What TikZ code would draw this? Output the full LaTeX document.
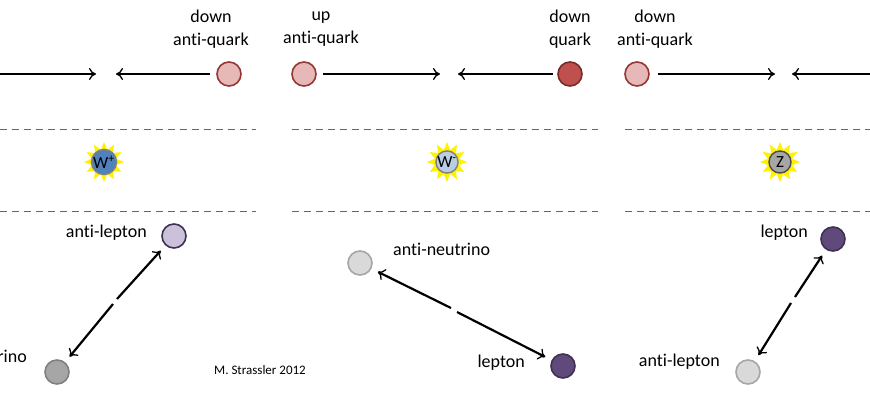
\documentclass[tikz,border=0pt]{standalone}
\usepackage{fontspec}
\setmainfont[Ligatures=NoCommon]{Carlito}
\usetikzlibrary{arrows.meta,shapes.geometric}
\definecolor{aqfill}{HTML}{E6B9B8}
\definecolor{qdraw}{HTML}{953735}
\definecolor{qfill}{HTML}{C0504D}
\definecolor{alfill}{HTML}{CCC1DA}
\definecolor{ldraw}{HTML}{3F3151}
\definecolor{lfill}{HTML}{604A7B}
\definecolor{wpfill}{HTML}{4F81BD}
\definecolor{wmfill}{HTML}{B9CDE5}
\begin{document}
\begin{tikzpicture}[x=1pt,y=1pt,
    part/.style={circle,line width=1.6pt,minimum size=24pt,inner sep=0pt},
    boson/.style={circle,draw=gray,line width=1.4pt,minimum size=22pt,inner sep=0pt,font=\fontsize{17}{17}\selectfont},
    burst/.style={star,star points=12,star point ratio=1.6,fill=yellow,minimum size=40pt,inner sep=0pt},
    lbl/.style={font=\fontsize{18}{23}\selectfont,inner sep=0pt},
    move/.style={-{To[length=7pt,width=12pt,line width=1.3pt]},line width=2.2pt},
    level/.style={gray!80!black,line width=1pt,dash pattern=on 7pt off 5pt}]
\useasboundingbox (0,0) rectangle (870,400);
% panel 1
\node[part,draw=qdraw,fill=aqfill] (daqa) at (229,326) {};
\node[lbl,align=center] (daqal) at (211,371) {down\\anti-quark};
\coordinate (ina1) at (-20,326);
\coordinate (hita1) at (96,326);
\coordinate (hitb1) at (116,326);
\draw[move] (ina1) -- (hita1);
\draw[move,shorten <=6pt] (daqa) -- (hitb1);
\draw[level] (0,271) -- (256,271);
\draw[level] (0,189) -- (256,189);
\node[burst] (bwp) at (104,238) {};
\node[boson,fill=wpfill] (wp) at (104,238) {W\textsuperscript{+}};
\node[part,draw=ldraw,fill=alfill] (ala) at (174,164) {};
\node[lbl,anchor=east] (alal) at (147,167) {anti-lepton};
\node[part,draw=gray,fill=gray!70] (nua) at (57,28) {};
\node[lbl,anchor=east] (nual) at (27,44) {neutrino};
\coordinate (gapa1) at (117,101);
\coordinate (gapa2) at (113,96);
\draw[move,shorten >=7pt] (gapa1) -- (ala);
\draw[move,shorten >=7pt] (gapa2) -- (nua);
\node[font=\fontsize{13}{15}\selectfont] (credit) at (260,30) {M. Strassler 2012};
% panel 2
\node[part,draw=qdraw,fill=aqfill] (uaqb) at (304,326) {};
\node[lbl,align=center] (uaqbl) at (321,371) {up\\anti-quark};
\node[part,draw=qdraw!80!black,fill=qfill] (dqb) at (570,326) {};
\node[lbl,align=center] (dqbl) at (570,371) {down\\quark};
\coordinate (hita2) at (440,326);
\coordinate (hitb2) at (458,326);
\draw[move,shorten <=6pt] (uaqb) -- (hita2);
\draw[move,shorten <=4pt] (dqb) -- (hitb2);
\draw[level] (292,271) -- (598,271);
\draw[level] (292,189) -- (598,189);
\node[burst] (bwm) at (447,238) {};
\node[boson,fill=wmfill] (wm) at (447,238) {W\textsuperscript{-}};
\node[part,draw=gray!70,fill=gray!30] (anub) at (360,137) {};
\node[lbl,anchor=west] (anubl) at (393,151) {anti-neutrino};
\node[part,draw=ldraw,fill=lfill] (lb) at (563,34) {};
\node[lbl,anchor=east] (lbl) at (525,37) {lepton};
\coordinate (gapb1) at (451,92);
\coordinate (gapb2) at (457,88);
\draw[move,shorten >=7pt] (gapb1) -- (anub);
\draw[move,shorten >=7pt] (gapb2) -- (lb);
% panel 3
\node[part,draw=qdraw,fill=aqfill] (daqc) at (637,326) {};
\node[lbl,align=center] (daqcl) at (655,371) {down\\anti-quark};
\coordinate (hita3) at (775,326);
\coordinate (hitb3) at (792,326);
\coordinate (inb3) at (890,326);
\draw[move,shorten <=8pt] (daqc) -- (hita3);
\draw[move] (inb3) -- (hitb3);
\draw[level] (625,271) -- (870,271);
\draw[level] (625,189) -- (870,189);
\node[burst] (bz) at (780,238) {};
\node[boson,draw=gray!60!black,fill=gray!70] (z) at (780,238) {Z};
\node[part,draw=ldraw,fill=lfill] (lc) at (833,161) {};
\node[lbl,anchor=east] (lcl) at (808,167) {lepton};
\node[part,draw=gray!70,fill=gray!30] (alc) at (748,28) {};
\node[lbl,anchor=east] (alcl) at (720,38) {anti-lepton};
\coordinate (gapc1) at (795,103);
\coordinate (gapc2) at (791,97);
\draw[move,shorten >=7pt] (gapc1) -- (lc);
\draw[move,shorten >=7pt] (gapc2) -- (alc);
\end{tikzpicture}
\end{document}
